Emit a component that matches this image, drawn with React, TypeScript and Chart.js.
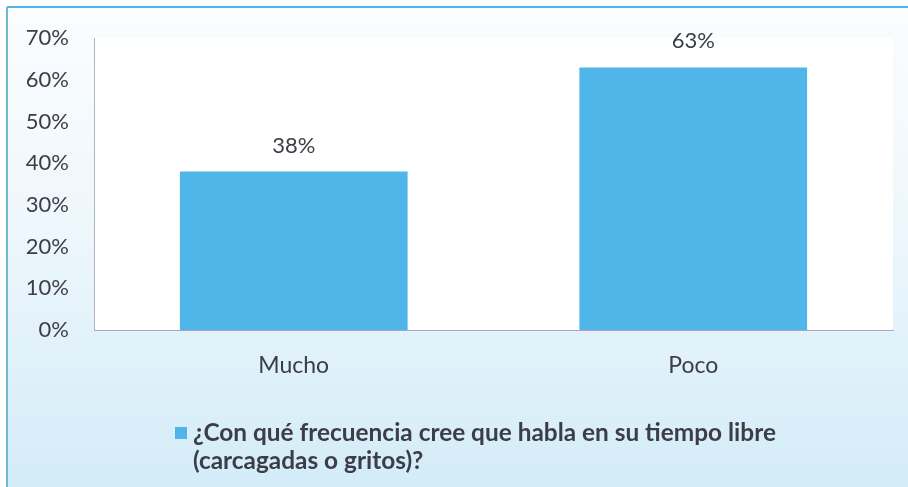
import React, { useEffect, useRef } from "react";
import { Chart, registerables } from "chart.js";

Chart.register(...registerables);

const categories: string[] = ["Mucho", "Poco"];
const values: number[] = [38, 63];
const valueLabels: string[] = ["38%", "63%"];
const legendLines: string[] = [
  "¿Con qué frecuencia cree que habla en su tiempo libre",
  "(carcagadas o gritos)?",
];
const yMax = 70;
const yStep = 10;

const FONT = "Lato, 'Open Sans', sans-serif";
const TEXT = "#3d3d48";
const BAR = "#50b5e8";

const bgPlugin = {
  id: "bgPlugin",
  beforeDraw(chart: any) {
    const { ctx, width, height, chartArea } = chart;
    ctx.save();
    ctx.fillStyle = "#ffffff";
    ctx.fillRect(0, 0, width, height);
    const g = ctx.createLinearGradient(0, 7, 0, height);
    g.addColorStop(0, "#fbfdfe");
    g.addColorStop(0.45, "#eef7fc");
    g.addColorStop(1, "#d3ecf8");
    ctx.fillStyle = g;
    ctx.fillRect(7, 7, width - 7, height - 7);
    ctx.fillStyle = "#ffffff";
    ctx.fillRect(chartArea.left, chartArea.top, chartArea.right - chartArea.left, chartArea.bottom - chartArea.top);
    ctx.strokeStyle = "#4fb5ec";
    ctx.lineWidth = 2;
    ctx.beginPath();
    ctx.moveTo(7, 7);
    ctx.lineTo(width, 7);
    ctx.stroke();
    ctx.strokeStyle = "#72b9d0";
    ctx.beginPath();
    ctx.moveTo(7, 7);
    ctx.lineTo(7, height);
    ctx.stroke();
    ctx.restore();
  },
};

const labelPlugin = {
  id: "labelPlugin",
  afterDatasetsDraw(chart: any) {
    const { ctx } = chart;
    const meta = chart.getDatasetMeta(0);
    ctx.save();
    ctx.font = `22px ${FONT}`;
    ctx.fillStyle = TEXT;
    ctx.textAlign = "center";
    ctx.textBaseline = "middle";
    meta.data.forEach((bar: any, i: number) => {
      ctx.fillText(valueLabels[i], bar.x, bar.y - 26);
    });
    ctx.restore();
  },
  afterDraw(chart: any) {
    const { ctx } = chart;
    ctx.save();
    ctx.fillStyle = BAR;
    ctx.fillRect(175, 427, 12, 12);
    ctx.font = `bold 24.4px ${FONT}`;
    ctx.fillStyle = TEXT;
    ctx.textAlign = "left";
    ctx.textBaseline = "middle";
    legendLines.forEach((line, i) => {
      ctx.fillText(line, 193, 433 + i * 28);
    });
    ctx.restore();
  },
};

export default function App() {
  const ref = useRef<HTMLCanvasElement | null>(null);
  useEffect(() => {
    if (!ref.current) return;
    const chart = new Chart(ref.current, {
      type: "bar",
      data: {
        labels: categories,
        datasets: [
          {
            label: legendLines.join(" "),
            data: values,
            backgroundColor: BAR,
            borderWidth: 0,
            categoryPercentage: 1,
            barPercentage: 0.57,
          },
        ],
      },
      options: {
        animation: false,
        responsive: false,
        layout: { padding: { top: 37, right: 15, left: 0, bottom: 0 } },
        plugins: {
          legend: { display: false },
          tooltip: { enabled: false },
        },
        scales: {
          x: {
            grid: { display: false, drawTicks: false },
            border: { display: true, color: "#a9a6c4", width: 1 },
            ticks: {
              color: TEXT,
              font: { family: FONT, size: 23 },
              padding: 22,
            },
            afterFit: (s: any) => {
              s.height = 157;
            },
          },
          y: {
            min: 0,
            max: yMax,
            grid: { display: false, drawTicks: false },
            border: { display: true, color: "#b3b3bb", width: 1 },
            ticks: {
              stepSize: yStep,
              color: TEXT,
              font: { family: FONT, size: 22 },
              padding: 25,
              callback: (v: any) => `${v}%`,
            },
            afterFit: (s: any) => {
              s.width = 94;
            },
          },
        },
      },
      plugins: [bgPlugin, labelPlugin],
    });
    return () => chart.destroy();
  }, []);
  return (
    <div style={{ position: "fixed", left: 0, top: 0, width: 908, height: 487 }}>
      <canvas ref={ref} width={908} height={487} style={{ display: "block" }} />
    </div>
  );
}
